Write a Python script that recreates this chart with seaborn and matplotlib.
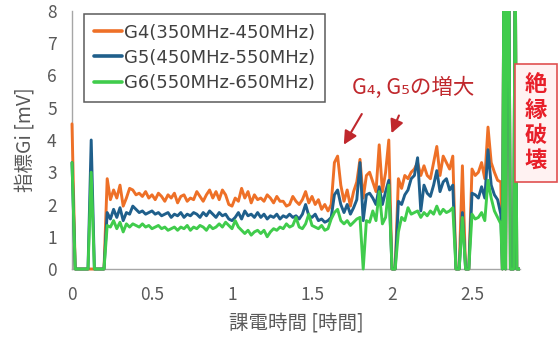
import numpy as np
import pandas as pd
import matplotlib
matplotlib.use("Agg")
import matplotlib.pyplot as plt
import seaborn as sns
from matplotlib.transforms import Bbox, TransformedBbox

# ---------------- data ----------------
# sample times [h]: regular 0.02 h grid up to 2.68 h, then 0.01 h samples until 2.80 h
time_grid = np.round(np.arange(0, 135) * 0.02, 2)
time_tail = [2.69, 2.70, 2.71, 2.72, 2.73, 2.74, 2.75, 2.76, 2.77, 2.78, 2.79, 2.80]

g4_main = [
    4.5, 0, 0, 0, 0, 0, 0, 0, 0, 0,
    0, 2.8, 2.15, 2.45, 2.2, 2.6, 1.95, 2.2, 2.5, 2.45,
    2.3, 2.35, 2.25, 2.4, 2.2, 2.3, 2.15, 2.35, 2.25, 2.1,
    2.3, 2.2, 2.35, 2.05, 2.25, 2.3, 2.1, 2.2, 2.15, 2.4,
    2.25, 2.1, 2.3, 2.45, 2.2, 2.4, 2.15, 2.45, 2.3, 2.0,
    1.95, 2.2, 2.1, 2.5, 2.2, 2.4, 2.05, 2.3, 2.15, 2.2,
    2.1, 2.3, 2.2, 2.05, 2.25, 2.1, 2.1, 1.95, 2.0, 2.25,
    2.1, 2.0, 2.15, 2.4, 2.05, 2.25, 2.0, 2.15, 1.85, 2.0,
    1.8, 2.0, 3.3, 3.5, 2.6, 2.1, 2.45, 1.95, 2.4, 2.7,
    3.4, 2.2, 2.9, 3.0, 2.7, 2.4, 3.85, 2.4, 3.0, 4.0,
    0, 0, 2.8, 2.5, 2.9, 2.8, 3.0, 3.1, 3.3, 2.9,
    3.2, 2.9, 2.8, 3.3, 3.8, 2.9, 3.5, 3.3, 3.1, 3.5,
    0, 0, 3.2, 0, 0, 3.1, 2.9, 3.0, 3.3, 2.8,
    4.4, 3.3, 3.0, 2.75, 2.7,
]
g5_main = [
    3.3, 0, 0, 0, 0, 0, 4.0, 0, 0, 0,
    0, 1.75, 1.55, 1.85, 1.6, 1.9, 1.5, 1.75, 1.7, 1.95,
    1.85, 1.75, 1.8, 1.7, 1.75, 1.8, 1.7, 1.75, 1.65, 1.7,
    1.75, 1.6, 1.7, 1.65, 1.75, 1.6, 1.7, 1.65, 1.75, 1.7,
    1.6, 1.75, 1.65, 1.8, 1.7, 1.6, 1.75, 1.65, 1.7, 1.55,
    1.5, 1.6, 1.75, 1.55, 1.8, 1.65, 1.7, 1.6, 1.75, 1.6,
    1.7, 1.55, 1.65, 1.6, 1.7, 1.55, 1.65, 1.6, 1.7, 1.6,
    1.65, 1.55, 1.7, 2.0, 1.65, 1.6, 1.7, 1.5, 1.55, 1.45,
    1.5, 1.6, 2.3, 2.45, 2.0, 1.75, 2.0, 1.7, 1.9, 2.15,
    3.3, 1.5, 2.3, 2.35, 2.2, 2.0, 2.55, 2.0, 2.4, 2.75,
    0, 0, 2.1, 2.0, 2.3, 2.45, 2.8, 2.9, 3.45, 1.8,
    2.6, 2.35, 2.25, 2.6, 3.05, 2.4, 2.7, 2.8, 2.45, 2.6,
    0, 0, 1.75, 0, 0, 2.35, 2.3, 2.2, 2.55, 2.2,
    3.7, 2.6, 2.3, 2.15, 1.7,
]
g6_main = [
    3.3, 0, 0, 0, 0, 0, 3.0, 0, 0, 0,
    0, 1.35, 1.3, 1.5, 1.25, 1.45, 1.15, 1.4, 1.3, 1.4,
    1.35, 1.3, 1.4, 1.3, 1.35, 1.25, 1.3, 1.35, 1.25, 1.3,
    1.2, 1.25, 1.3, 1.2, 1.3, 1.25, 1.35, 1.2, 1.3, 1.25,
    1.35, 1.3, 1.2, 1.35, 1.25, 1.3, 1.4, 1.3, 1.45, 1.35,
    1.25, 1.5, 1.3, 1.2, 1.1, 1.2, 1.05, 1.15, 1.2, 1.1,
    1.2, 1.0, 1.15, 1.25, 1.2, 1.3, 1.25, 1.4, 1.3, 1.35,
    1.6, 1.3, 1.25, 1.4, 1.7, 1.35, 1.3, 1.25, 1.35, 1.2,
    1.25, 1.55, 1.75, 1.85, 1.5, 1.4, 1.5, 1.35, 1.45, 1.55,
    1.6, 0, 1.5, 1.45, 1.8, 1.5, 2.4, 1.4, 1.6, 2.6,
    0, 0, 1.15, 1.6, 1.5, 1.9, 1.7, 1.75, 1.8, 1.6,
    1.75, 1.65, 1.8, 1.7, 1.95, 1.7, 1.85, 1.75, 1.8, 1.9,
    0, 0, 1.6, 0, 0, 1.7, 1.55, 1.6, 1.75, 1.5,
    2.75, 2.2, 1.8, 1.6, 1.4,
]
# breakdown: values far off scale (clipped at 8 mV)
breakdown_tail = [0, 10, 0, 10, 10, 0, 0, 0, 10, 0, 0, 0]

series_labels = ["G4(350MHz-450MHz)", "G5(450MHz-550MHz)", "G6(550MHz-650MHz)"]
series_colors = ["#EE7027", "#1F5F8B", "#40CC4C"]
x_ticks = [0, 0.5, 1, 1.5, 2, 2.5]
x_tick_labels = ["0", "0.5", "1", "1.5", "2", "2.5"]
y_ticks = [0, 1, 2, 3, 4, 5, 6, 7, 8]
x_label = "課電時間 [時間]"
y_label = "指標Gi [mV]"
note_text = "G₄, G₅の増大"
box_text = "絶\n縁\n破\n壊"

# ---------------- build ----------------
time_h = np.concatenate([time_grid, time_tail])
g4 = np.array(g4_main + breakdown_tail, dtype=float)
g5 = np.array(g5_main + breakdown_tail, dtype=float)
g6 = np.array(g6_main + breakdown_tail, dtype=float)

df = pd.DataFrame({
    "time": np.concatenate([time_h, time_h, time_h]),
    "value": np.concatenate([g4, g5, g6]),
    "series": np.repeat(series_labels, len(time_h)),
})

sns.set_style("white")
plt.rcParams["font.family"] = ["Noto Sans CJK JP", "DejaVu Sans"]

fig = plt.figure(figsize=(5.6, 3.45), dpi=100)
ax = fig.add_axes([72 / 560, 1 - 269 / 345, 448 / 560, 258 / 345])

sns.lineplot(data=df, x="time", y="value", hue="series", hue_order=series_labels,
             palette=series_colors, estimator=None, sort=False, linewidth=2.1,
             ax=ax, zorder=3)

ax.set_xlim(0, 2.8)
ax.set_ylim(0, 8)
clip = TransformedBbox(Bbox([[-0.03, -0.3], [2.8, 8.0]]), ax.transData)
for ln in ax.lines:
    ln.set_clip_box(clip)

ax.set_xticks(x_ticks)
ax.set_xticklabels(x_tick_labels)
ax.set_yticks(y_ticks)
ax.tick_params(axis="both", length=0, labelsize=12.5, colors="#595959")
ax.tick_params(axis="x", pad=12)
ax.tick_params(axis="y", pad=11)
for s in ["top", "right"]:
    ax.spines[s].set_visible(False)
for s in ["left", "bottom"]:
    ax.spines[s].set_color("#A6A6A6")
    ax.spines[s].set_linewidth(1.0)
ax.grid(False)

ax.set_xlabel(x_label, fontsize=14, color="#595959", labelpad=6)
ax.set_ylabel(y_label, fontsize=14, color="#595959", labelpad=8)

handles, labels = ax.get_legend_handles_labels()
leg = ax.legend(handles, labels, loc="upper left", bbox_to_anchor=(0.027, 0.99),
                frameon=True, fancybox=False,
                prop={"family": "DejaVu Sans", "size": 13},
                handlelength=1.55, handletextpad=0.12, labelspacing=0.4,
                borderpad=0.55, borderaxespad=0)
leg.get_frame().set_edgecolor("#333333")
leg.get_frame().set_linewidth(1.1)
for t in leg.get_texts():
    t.set_color("#404040")
for h in leg.get_lines():
    h.set_linewidth(2.6)

# annotation
red = "#C0282D"
ax.text(2.13, 5.62, note_text, color=red, fontsize=15.5, ha="center", va="center")
i_peak1 = 83
i_peak2 = 99
ax.annotate("", xy=(time_h[i_peak1] + 0.03, g4[i_peak1] + 0.28), xytext=(1.82, 4.88),
            arrowprops=dict(arrowstyle="-|>", color=red, lw=1.5, mutation_scale=20))
ax.annotate("", xy=(time_h[i_peak2] + 0.01, g4[i_peak2] + 0.13), xytext=(2.05, 4.84),
            arrowprops=dict(arrowstyle="-|>", color=red, lw=1.5, mutation_scale=20))

fig.text(536 / 560, 1 - 123 / 345, box_text, color="#E8202A", fontsize=16,
         fontweight="bold", ha="center", va="center", linespacing=1.1,
         bbox=dict(boxstyle="square,pad=0.45", facecolor="#FFF2F2",
                   edgecolor="#E05050", linewidth=1.2))

fig.savefig("out.png", dpi=100)
